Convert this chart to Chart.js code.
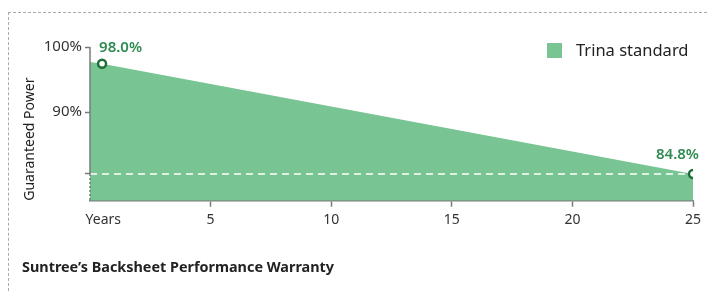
<!DOCTYPE html>
<html lang="en">
<head>
  <meta charset="UTF-8">
  <title>Backsheet Performance Warranty</title>
  <script src="https://cdn.jsdelivr.net/npm/chart.js"></script>
  <style>
    html, body { margin: 0; padding: 0; background: #fff; }
    .wrap { position: relative; width: 707px; height: 291px; font-family: 'Noto Sans', 'Open Sans', sans-serif; }
    .frame {
      position: absolute; left: 8px; top: 12px; right: 0; bottom: 0;
      border-top: 1.5px dashed #aaa; border-left: 1.5px dashed #aaa;
      pointer-events: none;
    }
    .legend {
      position: absolute; left: 547px; top: 39px;
      display: flex; align-items: center;
      font-size: 16.5px; color: #222; line-height: 22px;
    }
    .legend .box { width: 15px; height: 15px; margin-right: 14px; }
  </style>
</head>
<body>
  <div class="wrap">
    <canvas id="warrantyChart" width="707" height="291"></canvas>
    <div class="frame"></div>
    <div class="legend" id="legend"></div>
  </div>

  <script>
    // data
    const years = [0, 0.5, 25];
    const power = [98.2, 98.0, 84.8];
    const pointLabels = ["", "98.0%", "84.8%"];
    const floorLine = 84.8;
    const seriesName = "Trina standard";

    // the original axis is not to scale, so ticks sit where the picture has them
    const yTickValues = [100, 92.2, 84.8];
    const yTickLabels = ["100%", "90%", ""];
    const xTickValues = [0.55, 5, 10, 15, 20, 25];
    const xTickLabels = ["Years", "5", "10", "15", "20", "25"];

    const green = "#78c492";
    const darkGreen = "#1f6f3b";
    const labelGreen = "#2f8a52";
    const axisGray = "#7a7a7a";
    const font = "'Noto Sans', 'Open Sans', sans-serif";

    // y axis: solid down to the floor line, dotted below it
    const axisLinePlugin = {
      id: "axisLine",
      afterDatasetsDraw(chart) {
        const { ctx, chartArea, scales } = chart;
        const x = chartArea.left;
        const yTop = scales.y.getPixelForValue(yTickValues[0]);
        const yFloor = scales.y.getPixelForValue(floorLine);
        ctx.save();
        ctx.strokeStyle = axisGray;
        ctx.lineWidth = 1.5;
        ctx.beginPath();
        ctx.moveTo(x, yTop);
        ctx.lineTo(x, yFloor);
        ctx.stroke();
        ctx.setLineDash([2, 2]);
        ctx.beginPath();
        ctx.moveTo(x, yFloor);
        ctx.lineTo(x, chartArea.bottom);
        ctx.stroke();
        ctx.restore();
      }
    };

    // value labels next to the markers
    const pointLabelPlugin = {
      id: "pointLabels",
      afterDatasetsDraw(chart) {
        const { ctx } = chart;
        const pts = chart.getDatasetMeta(0).data;
        ctx.save();
        ctx.font = "600 15px " + font;
        ctx.fillStyle = labelGreen;
        ctx.textBaseline = "bottom";
        pts.forEach((p, i) => {
          if (!pointLabels[i]) return;
          if (i === pts.length - 1) {
            ctx.textAlign = "right";
            ctx.fillText(pointLabels[i], p.x + 6, p.y - 12);
          } else {
            ctx.textAlign = "left";
            ctx.fillText(pointLabels[i], p.x - 3, p.y - 8);
          }
        });
        ctx.restore();
      }
    };

    document.getElementById("legend").innerHTML =
      `<span class="box" style="background:${green}"></span><span>${seriesName}</span>`;

    new Chart(document.getElementById("warrantyChart"), {
      type: "line",
      data: {
        datasets: [
          {
            label: seriesName,
            data: years.map((x, i) => ({ x, y: power[i] })),
            backgroundColor: green,
            borderColor: green,
            borderWidth: 0,
            fill: "start",
            tension: 0,
            pointRadius: [0, 4, 4],
            pointBorderWidth: 2.5,
            pointBorderColor: darkGreen,
            pointBackgroundColor: "#fff",
            order: 0
          },
          {
            label: "floor",
            data: [{ x: 0, y: floorLine }, { x: 25, y: floorLine }],
            borderColor: "#fff",
            borderWidth: 1.5,
            borderDash: [7, 5],
            pointRadius: 0,
            fill: false,
            order: 1
          }
        ]
      },
      options: {
        responsive: false,
        animation: false,
        layout: { padding: { left: 22, right: 14, top: 42, bottom: 10 } },
        plugins: {
          filler: { drawTime: "beforeDatasetsDraw" },
          tooltip: { enabled: false },
          legend: { display: false },
          title: {
            display: true,
            position: "bottom",
            align: "start",
            text: "Suntree\u2019s Backsheet Performance Warranty",
            color: "#222",
            font: { family: font, size: 14.4, weight: "bold" },
            padding: { top: 0, bottom: 4 }
          }
        },
        scales: {
          x: {
            type: "linear",
            min: 0,
            max: 25,
            afterBuildTicks: scale => { scale.ticks = xTickValues.map(value => ({ value })); },
            afterFit: scale => { scale.height = 59; },
            ticks: {
              autoSkip: false,
              maxRotation: 0,
              padding: 5,
              color: "#333",
              font: { family: font, size: 14 },
              callback: (value, index) => xTickLabels[index]
            },
            grid: {
              drawOnChartArea: false,
              tickLength: 6,
              tickWidth: 1.5,
              tickColor: ctx => ctx.index === 0 ? "transparent" : axisGray
            },
            border: { color: axisGray, width: 1.5 }
          },
          y: {
            min: 81.6,
            max: 100.6,
            afterBuildTicks: scale => { scale.ticks = yTickValues.map(value => ({ value })); },
            afterFit: scale => { scale.width = 68; },
            ticks: {
              autoSkip: false,
              padding: 3,
              color: "#333",
              font: { family: font, size: 15 },
              callback: (value, index) => yTickLabels[index]
            },
            grid: {
              drawOnChartArea: false,
              tickLength: 5,
              tickWidth: 1.5,
              tickColor: axisGray
            },
            border: { display: false },
            title: {
              display: true,
              text: "Guaranteed Power",
              align: "start",
              color: "#222",
              font: { family: font, size: 14 },
              padding: { top: 0, bottom: 3 }
            }
          }
        }
      },
      plugins: [axisLinePlugin, pointLabelPlugin]
    });
  </script>
</body>
</html>
